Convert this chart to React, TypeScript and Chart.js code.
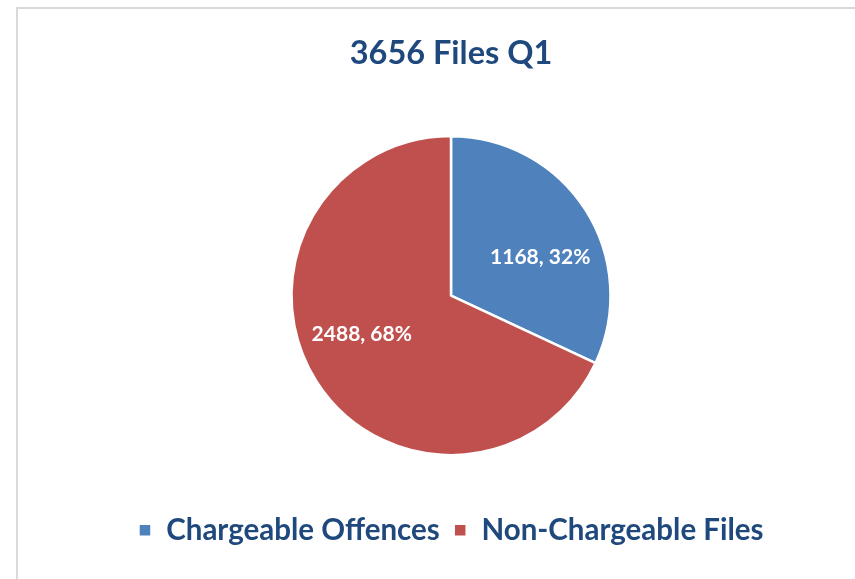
import React, { useEffect, useRef } from "react";
import { Chart, registerables } from "chart.js";

Chart.register(...registerables);

const titleText = "3656 Files Q1";
const categories = ["Chargeable Offences", "Non-Chargeable Files"];
const fileCounts = [1168, 2488];
const sliceColors = ["#4F81BD", "#C0504D"];

const FONT = "Lato, 'Open Sans', sans-serif";
const TEXT_COLOR = "#1F497D";

const labelPlugin = {
  id: "sliceLabels",
  afterDatasetsDraw(chart: any, _args: any, opts: any) {
    const meta = chart.getDatasetMeta(0);
    const data = chart.data.datasets[0].data as number[];
    const total = data.reduce((a, b) => a + b, 0);
    const ctx = chart.ctx;
    ctx.save();
    ctx.fillStyle = "#FFFFFF";
    ctx.font = `bold ${opts.size}px ${FONT}`;
    ctx.textAlign = "center";
    ctx.textBaseline = "middle";
    meta.data.forEach((arc: any, i: number) => {
      const p = arc.getProps(["x", "y", "startAngle", "endAngle", "outerRadius"], true);
      const mid = (p.startAngle + p.endAngle) / 2 + (opts.angleOffset * Math.PI) / 180;
      const r = p.outerRadius * opts.radiusFactor;
      const x = p.x + Math.cos(mid) * r;
      const y = p.y + Math.sin(mid) * r;
      const pct = Math.round((data[i] / total) * 100);
      ctx.fillText(`${data[i]}, ${pct}%`, x, y);
    });
    ctx.restore();
  },
};

export default function App() {
  const canvasRef = useRef<HTMLCanvasElement | null>(null);

  useEffect(() => {
    const canvas = canvasRef.current;
    if (!canvas) return;
    const chart = new Chart(canvas, {
      type: "pie",
      data: {
        labels: categories,
        datasets: [
          {
            data: fileCounts,
            backgroundColor: sliceColors,
            borderColor: "#FFFFFF",
            borderWidth: 2.5,
            radius: 159.5,
          } as any,
        ],
      },
      options: {
        responsive: false,
        animation: false,
        devicePixelRatio: 1,
        layout: { padding: { top: 0, bottom: 24, left: 47, right: 0 } },
        plugins: {
          title: {
            display: true,
            text: titleText,
            color: TEXT_COLOR,
            font: { family: FONT, size: 32.5, weight: "bold", lineHeight: 1.2 },
            padding: { top: 34.5, bottom: 16.25 },
          },
          legend: {
            display: true,
            position: "bottom",
            labels: {
              color: TEXT_COLOR,
              font: { family: FONT, size: 29.5, weight: "bold" },
              boxWidth: 13,
              boxHeight: 13,
              padding: 14,
            },
          },
          tooltip: { enabled: false },
          sliceLabels: { size: 21, radiusFactor: 0.61, angleOffset: 9 },
        } as any,
      },
      plugins: [labelPlugin],
    });
    return () => chart.destroy();
  }, []);

  return (
    <div style={{ position: "fixed", left: 0, top: 0, width: 855, height: 579, background: "#FFFFFF", overflow: "hidden" }}>
      <div
        style={{
          position: "absolute",
          left: 16,
          top: 7,
          width: 900,
          height: 700,
          borderTop: "2px solid #D9D9D9",
          borderLeft: "2px solid #D9D9D9",
        }}
      />
      <canvas ref={canvasRef} width={855} height={579} style={{ position: "absolute", left: 0, top: 0 }} />
    </div>
  );
}
